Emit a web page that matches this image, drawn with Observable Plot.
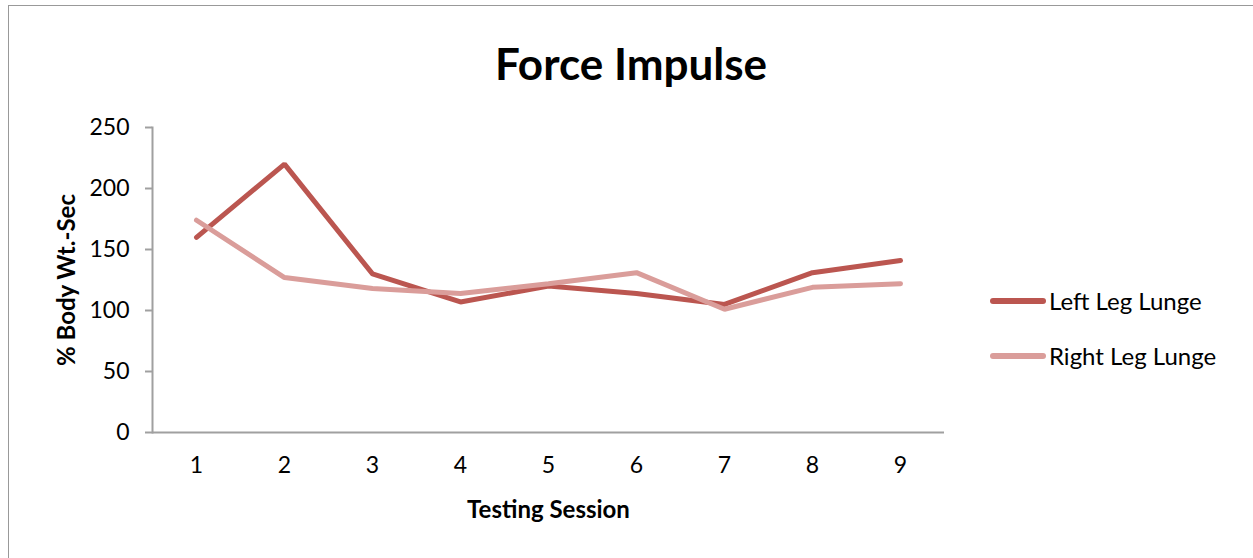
<!DOCTYPE html>
<html>
<head>
<meta charset="utf-8">
<script src="https://cdn.jsdelivr.net/npm/d3@7"></script>
<script src="https://cdn.jsdelivr.net/npm/@observablehq/plot@0.6"></script>
<style>
  html, body { margin: 0; padding: 0; background: #fff; }
  #wrap { position: relative; width: 1253px; height: 558px; overflow: hidden; font-family: Lato, "Open Sans", sans-serif; }
  #frame { position: absolute; left: 8px; top: 5px; width: 1300px; height: 600px; border-left: 1px solid #999; border-top: 1px solid #999; }
  #chart { position: absolute; left: 0; top: 0; }
  .title { position: absolute; left: 0; width: 1262px; top: 37px; text-align: center; font-weight: bold; font-size: 44px; line-height: 1.2; color: #000; }
  .legend { position: absolute; left: 990px; font-size: 24px; line-height: 29px; color: #000; display: flex; align-items: center; }
  .legend .sw { display: inline-block; width: 56px; height: 6px; border-radius: 3px; margin-right: 3px; }
</style>
</head>
<body>
<div id="wrap">
  <div id="frame"></div>
  <div id="chart"></div>
  <div class="title">Force Impulse</div>
  <div id="legend"></div>
</div>
<script>
const sessions = [1, 2, 3, 4, 5, 6, 7, 8, 9];
const leftLeg = [160, 220, 130, 107, 120, 114, 105, 131, 141];
const rightLeg = [174, 127, 118, 114, 122, 131, 101, 119, 122];
const seriesNames = ["Left Leg Lunge", "Right Leg Lunge"];
const seriesColors = ["#BB5650", "#DA9D9A"];
const yTicks = [0, 50, 100, 150, 200, 250];

const data = [];
sessions.forEach((s, i) => {
  data.push({session: s, value: leftLeg[i], series: seriesNames[0]});
  data.push({session: s, value: rightLeg[i], series: seriesNames[1]});
});

const plot = Plot.plot({
  width: 1253,
  height: 558,
  marginLeft: 152,
  marginRight: 309,
  marginTop: 127,
  marginBottom: 126,
  style: {fontFamily: "Lato, 'Open Sans', sans-serif", fontSize: "23px", color: "#000", background: "transparent"},
  x: {type: "point", domain: sessions, padding: 0.5},
  y: {domain: [0, 250]},
  color: {domain: seriesNames, range: seriesColors},
  marks: [
    Plot.frame({anchor: "left", stroke: "#a0a0a0", strokeWidth: 2}),
    Plot.ruleY([0], {stroke: "#a0a0a0", strokeWidth: 2}),
    Plot.axisY({ticks: yTicks, tickSize: 7, tickPadding: 16, stroke: "#a0a0a0", strokeWidth: 2, label: null, fill: "#000", fontSize: 23}),
    Plot.axisX({tickSize: 0, tickPadding: 24, label: null, fill: "#000", fontSize: 23}),
    Plot.text(["% Body Wt.-Sec"], {frameAnchor: "left", dx: -85, rotate: -90, textAnchor: "middle", lineAnchor: "middle", fontWeight: "bold", fontSize: 24, fill: "#000"}),
    Plot.text(["Testing Session"], {frameAnchor: "bottom", dy: 78, lineAnchor: "middle", fontWeight: "bold", fontSize: 24, fill: "#000"}),
    Plot.line(data, {x: "session", y: "value", stroke: "series", z: "series", strokeWidth: 5, strokeLinejoin: "miter", strokeLinecap: "round"})
  ]
});
document.getElementById("chart").appendChild(plot);

const leg = document.getElementById("legend");
const legTops = [286, 341];
seriesNames.forEach((n, i) => {
  const d = document.createElement("div");
  d.className = "legend";
  d.style.top = legTops[i] + "px";
  d.innerHTML = `<span class="sw" style="background:${seriesColors[i]}"></span><span>${n}</span>`;
  leg.appendChild(d);
});
</script>
</body>
</html>
